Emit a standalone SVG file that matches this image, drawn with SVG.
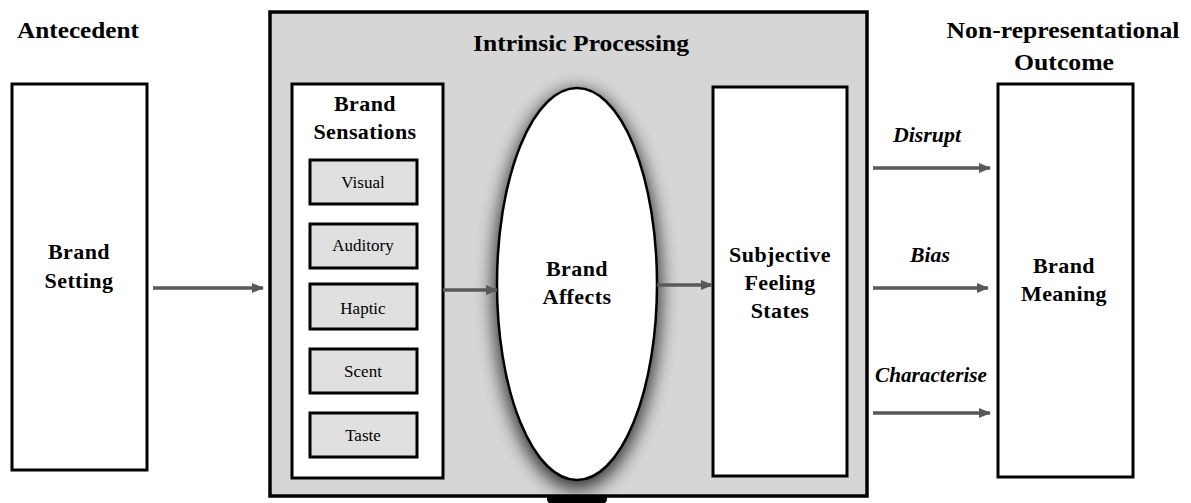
<svg xmlns="http://www.w3.org/2000/svg" width="1191" height="503" viewBox="0 0 1191 503">
  <style>
    .box { fill: #ffffff; stroke: #000000; stroke-width: 3; }
    .panel { fill: #d6d6d6; stroke: #000000; stroke-width: 3.5; }
    .sense { fill: #e0e0e0; stroke: #000000; stroke-width: 3; }
    .head { font-family: "Liberation Serif", "Times New Roman", serif; font-weight: bold; font-size: 23px; fill: #000; text-anchor: middle; }
    .title { font-family: "Liberation Serif", "Times New Roman", serif; font-weight: bold; font-size: 22px; fill: #000; text-anchor: middle; letter-spacing: 0.4px; }
    .small { font-family: "Liberation Serif", "Times New Roman", serif; font-size: 17px; fill: #000; text-anchor: middle; }
    .verb { font-family: "Liberation Serif", "Times New Roman", serif; font-weight: bold; font-style: italic; font-size: 20px; fill: #000; text-anchor: middle; }
    .link { stroke: #595959; stroke-width: 3.5; fill: none; marker-end: url(#arrow); }
  </style>
  <defs>
    <marker id="arrow" markerWidth="12" markerHeight="10" refX="11" refY="5" orient="auto" markerUnits="userSpaceOnUse">
      <path d="M0,0 L12,5 L0,10 Z" fill="#595959"/>
    </marker>
    <filter id="glow" x="-40%" y="-20%" width="180%" height="140%">
      <feGaussianBlur stdDeviation="9"/>
    </filter>
  </defs>

  <!-- column headings -->
  <text class="head" x="78" y="38" textLength="122" lengthAdjust="spacingAndGlyphs">Antecedent</text>
  <text class="head" x="1063" y="38" textLength="233" lengthAdjust="spacingAndGlyphs">Non-representational</text>
  <text class="head" x="1064" y="70" textLength="100" lengthAdjust="spacingAndGlyphs">Outcome</text>

  <!-- antecedent -->
  <g id="brand-setting">
    <rect class="box" x="12" y="84" width="135" height="386"/>
    <text class="title" x="79" y="259">Brand</text>
    <text class="title" x="79" y="288">Setting</text>
  </g>

  <!-- processing panel -->
  <g id="intrinsic-processing">
    <rect x="547" y="490" width="60" height="14" rx="5" fill="#000"/>
    <rect class="panel" x="270" y="12" width="597" height="484"/>
    <text class="head" x="581" y="51" textLength="216" lengthAdjust="spacingAndGlyphs">Intrinsic Processing</text>
  </g>

  <g id="brand-sensations">
    <rect class="box" x="292" y="84" width="151" height="394"/>
    <text class="title" x="365" y="111">Brand</text>
    <text class="title" x="365" y="139">Sensations</text>
    <g id="visual">
      <rect class="sense" x="310" y="160" width="107" height="44"/>
      <text class="small" x="363" y="188">Visual</text>
    </g>
    <g id="auditory">
      <rect class="sense" x="310" y="224" width="107" height="44"/>
      <text class="small" x="363" y="251">Auditory</text>
    </g>
    <g id="haptic">
      <rect class="sense" x="310" y="284" width="107" height="45"/>
      <text class="small" x="363" y="314">Haptic</text>
    </g>
    <g id="scent">
      <rect class="sense" x="310" y="349" width="107" height="44"/>
      <text class="small" x="363" y="377">Scent</text>
    </g>
    <g id="taste">
      <rect class="sense" x="310" y="413" width="107" height="44"/>
      <text class="small" x="363" y="441">Taste</text>
    </g>
  </g>

  <g id="brand-affects">
    <ellipse cx="577" cy="290" rx="84" ry="200" fill="#000" opacity="0.75" filter="url(#glow)"/>
    <ellipse cx="577" cy="284" rx="80" ry="196" fill="#ffffff" stroke="#000" stroke-width="2.5"/>
    <text class="title" x="577" y="276">Brand</text>
    <text class="title" x="577" y="304">Affects</text>
  </g>

  <g id="subjective-feeling-states">
    <rect class="box" x="713" y="87" width="134" height="389"/>
    <text class="title" x="780" y="262">Subjective</text>
    <text class="title" x="780" y="290">Feeling</text>
    <text class="title" x="780" y="318">States</text>
  </g>

  <!-- outcome -->
  <g id="brand-meaning">
    <rect class="box" x="998" y="84" width="135" height="393"/>
    <text class="title" x="1064" y="273">Brand</text>
    <text class="title" x="1064" y="301">Meaning</text>
  </g>

  <g id="connectors">
    <line class="link" x1="153" y1="288" x2="263" y2="288"/>
    <line class="link" x1="443" y1="290" x2="497" y2="290"/>
    <line class="link" x1="657" y1="285" x2="712" y2="285"/>
    <line class="link" x1="873" y1="168" x2="990" y2="168"/>
    <line class="link" x1="873" y1="288" x2="988" y2="288"/>
    <line class="link" x1="873" y1="413" x2="990" y2="413"/>
    <text class="verb" x="927" y="142" textLength="68" lengthAdjust="spacingAndGlyphs">Disrupt</text>
    <text class="verb" x="930" y="262" textLength="40" lengthAdjust="spacingAndGlyphs">Bias</text>
    <text class="verb" x="931" y="382" textLength="112" lengthAdjust="spacingAndGlyphs">Characterise</text>
  </g>
</svg>
